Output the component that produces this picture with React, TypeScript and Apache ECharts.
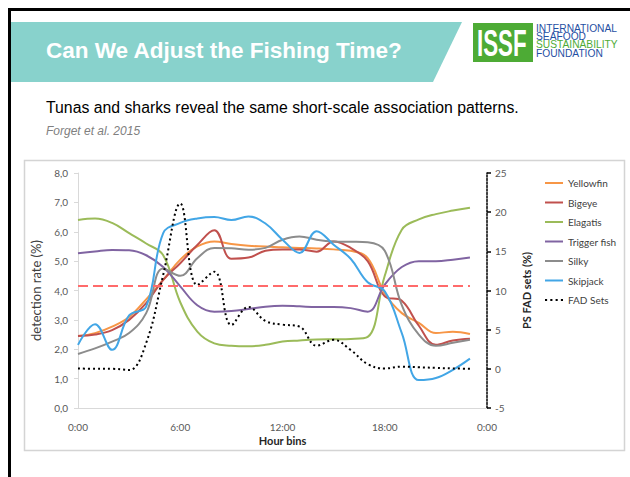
import React, { useEffect, useRef } from "react";
import * as echarts from "echarts";

const hours = [0, 1, 2, 3, 4, 5, 6, 7, 8, 9, 10, 11, 12, 13, 14, 15, 16, 17, 18, 19, 20, 21, 22, 23];
const xTickLabels = ["0:00", "6:00", "12:00", "18:00", "0:00"];

const yellowfin = [2.45, 2.55, 2.77, 3.1, 3.7, 4.36, 5.05, 5.5, 5.67, 5.58, 5.52, 5.5, 5.47, 5.45, 5.43, 5.4, 5.35, 5.1, 3.9, 3.23, 2.9, 2.55, 2.6, 2.52];
const bigeye = [2.45, 2.5, 2.65, 3.0, 3.57, 4.36, 4.93, 5.55, 6.05, 5.08, 5.12, 5.35, 5.4, 5.4, 5.32, 5.67, 5.45, 5.0, 3.8, 3.65, 2.8, 2.15, 2.3, 2.36];
const elagatis = [6.4, 6.45, 6.3, 5.95, 5.6, 5.2, 3.6, 2.6, 2.2, 2.12, 2.1, 2.15, 2.26, 2.3, 2.33, 2.34, 2.35, 2.42, 4.5, 6.07, 6.42, 6.6, 6.72, 6.82];
const triggerFish = [5.27, 5.33, 5.38, 5.37, 5.2, 4.8, 4.14, 3.5, 3.28, 3.3, 3.37, 3.45, 3.48, 3.46, 3.44, 3.44, 3.4, 3.28, 4.2, 4.8, 5.0, 5.0, 5.05, 5.12];
const silky = [1.84, 2.03, 2.26, 2.55, 3.23, 4.75, 4.5, 5.1, 5.45, 5.44, 5.39, 5.45, 5.73, 5.84, 5.73, 5.67, 5.66, 5.64, 5.35, 3.5, 2.5, 2.12, 2.22, 2.32];
const skipjack = [2.15, 2.85, 1.98, 3.15, 3.45, 5.95, 6.3, 6.45, 6.5, 6.4, 6.52, 6.28, 5.73, 5.28, 6.02, 5.56, 5.08, 4.28, 3.97, 2.55, 0.95, 1.02, 1.3, 1.68];
const fadSets = [0.05, 0.0, 0.0, -0.15, 3.3, 12.0, 21.1, 10.7, 12.4, 5.6, 7.9, 6.1, 5.65, 5.38, 2.95, 3.7, 2.4, 0.6, 0.04, 0.28, 0.2, 0.12, 0.05, 0.0];
const meanRate = 100 / 24;

const leftTicks = { min: 0, max: 8, interval: 1 };
const rightTicks = { min: -5, max: 25, interval: 5 };

const chartFont = "Lato, 'Open Sans', sans-serif";
const slideFont = "'Liberation Sans', Arial, sans-serif";

const solidIcon = "path://M0,0h18v2h-18z";
const dottedIcon = "path://M0,0h2v2h-2zM5,0h2v2h-2zM10,0h2v2h-2zM15,0h2v2h-2z";

function pairs(vals: number[]) {
  return vals.map((v, i) => [hours[i], v]);
}

export default function App() {
  const ref = useRef<HTMLDivElement>(null);
  useEffect(() => {
    document.body.style.margin = "0";
    const chart = echarts.init(ref.current!, null, { renderer: "svg" });
    const line = (name: string, data: number[], color: string) => ({
      name,
      type: "line",
      data: pairs(data),
      smooth: 0.4,
      symbol: "none",
      yAxisIndex: 0,
      lineStyle: { color, width: 2 },
      itemStyle: { color },
      z: 3,
    });
    chart.setOption({
      animation: false,
      backgroundColor: "#ffffff",
      textStyle: { fontFamily: chartFont },
      graphic: [
        { type: "rect", z: 0, shape: { x: 24.5, y: 160.5, width: 600, height: 290 }, style: { fill: "#fff", stroke: "#d4d4d4", lineWidth: 1.5 } },
        { type: "line", shape: { x1: 9.5, y1: 9, x2: 9.5, y2: 477 }, style: { stroke: "#000", lineWidth: 3 } },
        { type: "line", shape: { x1: 8, y1: 9.5, x2: 630, y2: 9.5 }, style: { stroke: "#000", lineWidth: 3 } },
        { type: "polygon", shape: { points: [[11, 22], [462, 22], [433, 82], [11, 82]] }, style: { fill: "#88d2cc" } },
        { type: "text", x: 46, y: 50, style: { text: "Can We Adjust the Fishing Time?", fill: "#fff", font: "bold 22.5px " + slideFont, textVerticalAlign: "middle" } },
        { type: "rect", shape: { x: 473, y: 23, width: 60, height: 39 }, style: { fill: "#4dab35" } },
        { type: "text", x: 477, y: 43.5, scaleX: 0.62, style: { text: "ISSF", fill: "#fff", font: "bold 36px " + slideFont, textVerticalAlign: "middle" } },
        { type: "text", x: 536, y: 27.5, scaleX: 0.93, style: { text: "INTERNATIONAL", fill: "#1f4fa3", font: "11px " + slideFont, textVerticalAlign: "middle" } },
        { type: "text", x: 536, y: 35.5, scaleX: 0.93, style: { text: "SEAFOOD", fill: "#1f4fa3", font: "11px " + slideFont, textVerticalAlign: "middle" } },
        { type: "text", x: 536, y: 44, scaleX: 0.93, style: { text: "SUSTAINABILITY", fill: "#4dab35", font: "11px " + slideFont, textVerticalAlign: "middle" } },
        { type: "text", x: 536, y: 53, scaleX: 0.93, style: { text: "FOUNDATION", fill: "#1f4fa3", font: "11px " + slideFont, textVerticalAlign: "middle" } },
        { type: "text", x: 46, y: 107, style: { text: "Tunas and sharks reveal the same short-scale association patterns.", fill: "#000", font: "15.8px " + slideFont, textVerticalAlign: "middle" } },
        { type: "text", x: 46, y: 131, style: { text: "Forget et al. 2015", fill: "#808080", font: "italic 12px " + slideFont, textVerticalAlign: "middle" } },
      ],
      grid: { left: 78, right: 143, top: 173, bottom: 69, containLabel: false },
      legend: {
        orient: "vertical",
        left: 540,
        top: 173,
        itemWidth: 18,
        itemHeight: 14,
        itemGap: 9.5,
        itemStyle: { borderWidth: 0 },
        textStyle: { fontSize: 10, color: "#404040", fontFamily: chartFont },
        data: [
          { name: "Yellowfin", icon: solidIcon },
          { name: "Bigeye", icon: solidIcon },
          { name: "Elagatis", icon: solidIcon },
          { name: "Trigger fish", icon: solidIcon },
          { name: "Silky", icon: solidIcon },
          { name: "Skipjack", icon: solidIcon },
          { name: "FAD Sets", icon: dottedIcon },
        ],
      },
      xAxis: {
        type: "value",
        min: 0,
        max: 24,
        interval: 6,
        name: "Hour bins",
        nameLocation: "middle",
        nameGap: 27,
        nameTextStyle: { fontWeight: "bold", fontSize: 11, color: "#262626", fontFamily: chartFont },
        axisLine: { lineStyle: { color: "#d9d9d9", width: 1 } },
        axisTick: { show: false },
        splitLine: { show: false },
        axisLabel: { margin: 14, fontSize: 10, color: "#595959", formatter: (v: number) => xTickLabels[Math.round(v / 6)] },
      },
      yAxis: [
        {
          type: "value",
          ...leftTicks,
          name: "detection rate (%)",
          nameLocation: "middle",
          nameGap: 36,
          nameRotate: 90,
          nameTextStyle: { fontSize: 13, color: "#404040", fontFamily: chartFont },
          axisLine: { show: true, lineStyle: { color: "#d9d9d9", width: 1 } },
          axisTick: { show: true, length: 4, lineStyle: { color: "#d9d9d9" } },
          splitLine: { show: false },
          axisLabel: { margin: 10, fontSize: 10, color: "#595959", formatter: (v: number) => v.toFixed(1).replace(".", ",") },
        },
        {
          type: "value",
          ...rightTicks,
          position: "right",
          name: "PS FAD sets (%)",
          nameLocation: "middle",
          nameGap: 34,
          nameRotate: 90,
          nameTextStyle: { fontSize: 11, fontWeight: "bold", color: "#262626", fontFamily: chartFont },
          axisLine: { show: true, lineStyle: { color: "#000", width: 1.5, type: [2, 1.5] } },
          axisTick: { show: true, length: 4, lineStyle: { color: "#000", width: 1.5 } },
          splitLine: { show: false },
          axisLabel: { margin: 8, fontSize: 10, color: "#595959" },
        },
      ],
      series: [
        {
          ...line("Yellowfin", yellowfin, "#f79646"),
          markLine: {
            silent: true,
            symbol: "none",
            label: { show: false },
            lineStyle: { color: "#ff6b6b", type: [10, 5], width: 1.8 },
            data: [[{ coord: [hours[0], meanRate] }, { coord: [hours[hours.length - 1], meanRate] }]],
          },
        },
        line("Bigeye", bigeye, "#c0504d"),
        line("Elagatis", elagatis, "#9bbb59"),
        line("Trigger fish", triggerFish, "#8064a2"),
        line("Silky", silky, "#8c8c8c"),
        line("Skipjack", skipjack, "#42a6e6"),
        {
          name: "FAD Sets",
          type: "line",
          yAxisIndex: 1,
          data: pairs(fadSets),
          smooth: 0.4,
          symbol: "none",
          lineStyle: { color: "#000", width: 2, type: [2, 3] },
          itemStyle: { color: "#000" },
          z: 4,
        },
      ],
    });
    return () => chart.dispose();
  }, []);
  return <div ref={ref} style={{ position: "absolute", left: 0, top: 0, width: 630, height: 477 }} />;
}
